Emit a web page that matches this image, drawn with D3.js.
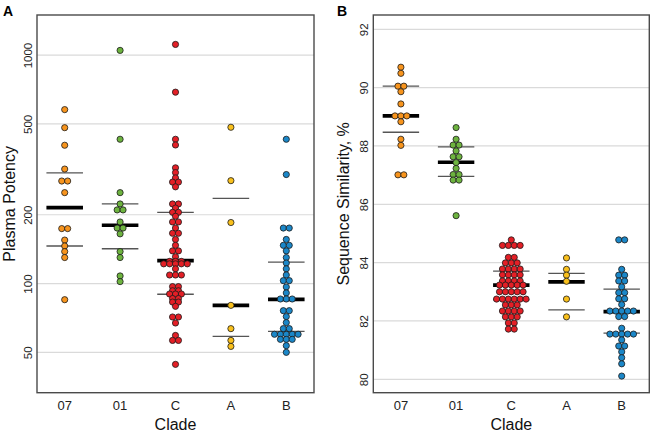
<!DOCTYPE html>
<html>
<head>
<meta charset="utf-8">
<script src="https://cdnjs.cloudflare.com/ajax/libs/d3/7.8.5/d3.min.js"></script>
<style>
body { margin: 0; background: #fff; }
svg { display: block; font-family: "Liberation Sans", Arial, sans-serif; }
</style>
</head>
<body>
<svg width="650" height="434"></svg>
<script>
// clades and their colours (same order on both panels)
var clades = ["07", "01", "C", "A", "B"];
var cladeColors = ["#F7941D", "#6DB33F", "#E31F26", "#F9C01C", "#1B87C8"];

// panel A - plasma potency, one value per dot
var potency07 = [577, 481, 403, 317, 281, 281, 250, 174, 174, 155, 146, 138, 130, 85];
var potency01 = [1048, 428, 250, 223, 210, 210, 186, 175, 175, 165, 138, 130, 108, 102];
var potencyC = [1113, 688, 428, 404, 321, 306, 290, 278, 278, 265, 223, 223, 214, 205, 205,
	197, 186, 186, 175, 166, 166, 156, 147, 139, 139, 131, 125, 125, 125,
	122, 122, 122, 122, 122, 116, 109, 109, 109,
	97, 97, 93, 93, 90, 90, 90, 86, 86, 83, 83, 79.5,
	71.4, 71.4, 67.2, 59.3, 56.4, 56.4, 44.3];
var potencyA = [483, 282, 185, 80.3, 63.5, 56.4, 53.1];
var potencyB = [428, 300, 175, 175, 156, 147, 147, 139, 130, 123, 116, 109, 103, 103, 96.6, 91,
	85.6, 85.6, 85.6, 76.1, 76.1, 71.7, 67.5, 63.5, 63.5,
	60, 60, 60, 60, 60, 57, 57, 57, 53.5, 50];
var potencyTicks = [50, 100, 200, 500, 1000];
// summary lines
var potencyQ3 = [305, 223, 205, 236, 124];
var potencyMedian = [215, 180, 126, 80.3, 85.3];
var potencyQ1 = [146, 142, 89.8, 58.7, 61.8];

// panel B - sequence similarity, %
var similarity07 = [90.70, 90.49, 90.05, 90.05, 89.86, 89.44, 89.03, 89.03, 89.03, 88.83, 88.23, 88.02, 87.01, 87.01];
var similarity01 = [88.63, 88.23, 88.03, 88.03, 87.83, 87.63, 87.63, 87.43, 87.23, 87.02, 87.02, 86.83, 86.83, 85.61];
var similarityC = [84.78, 84.59, 84.59, 84.59, 84.59, 84.18, 84.18, 83.99, 83.99, 83.99,
	83.78, 83.78, 83.78, 83.78, 83.58, 83.58, 83.58, 83.58, 83.37, 83.37, 83.37, 83.37,
	83.23, 83.23, 83.23, 83.23, 83.23, 83.0, 83.0, 83.0, 83.0, 83.0,
	82.75, 82.75, 82.75, 82.75, 82.75, 82.75, 82.55, 82.55, 82.55,
	82.34, 82.34, 82.34, 82.34, 82.14, 82.14, 82.14, 81.93, 81.93, 81.72, 81.72];
var similarityA = [84.16, 83.77, 83.57, 83.36, 82.75, 82.14];
var similarityB = [84.78, 84.78, 83.77, 83.57, 83.57, 83.37, 83.37, 83.17, 82.97, 82.97, 82.76, 82.76, 82.56,
	82.34, 82.34, 82.34, 82.34, 82.34, 82.15, 82.15, 81.75,
	81.55, 81.55, 81.55, 81.55, 81.55, 81.35, 81.14, 81.14, 80.94, 80.74, 80.53, 80.11];
var similarityTicks = [80, 82, 84, 86, 88, 90, 92];
var similarityQ3 = [90.05, 87.97, 83.71, 83.63, 83.09];
var similarityMedian = [89.03, 87.44, 83.23, 83.34, 82.32];
var similarityQ1 = [88.47, 86.96, 82.72, 82.38, 81.58];

var svg = d3.select("svg"),
	plotTop = 15,
	plotBottom = 392.7,
	dotR = 3.1,
	dotStep = 5.9;

drawPanel({
	letter: "A", letterX: 3,
	left: 37, right: 314,
	y: d3.scaleLog().domain([33.3, 1497]).range([plotBottom, plotTop]),
	ticks: potencyTicks,
	title: "Plasma Potency", titleX: 15,
	values: [potency07, potency01, potencyC, potencyA, potencyB],
	q1: potencyQ1, median: potencyMedian, q3: potencyQ3
});

drawPanel({
	letter: "B", letterX: 337,
	left: 373.3, right: 649.3,
	y: d3.scaleLinear().domain([79.54, 92.49]).range([plotBottom, plotTop]),
	ticks: similarityTicks,
	title: "Sequence Similarity, %", titleX: 348.5,
	values: [similarity07, similarity01, similarityC, similarityA, similarityB],
	q1: similarityQ1, median: similarityMedian, q3: similarityQ3
});

function drawPanel(p) {
	var g = svg.append("g");
	var x = d3.scaleBand().domain(clades).range([p.left, p.right]);
	var y = p.y;
	var half = x.bandwidth() * 0.33;

	// horizontal gridlines
	g.selectAll("line.grid")
		.data(p.ticks)
		.enter().append("line")
			.attr("class", "grid")
			.attr("x1", p.left).attr("x2", p.right)
			.attr("y1", function (d) { return y(d); })
			.attr("y2", function (d) { return y(d); })
			.attr("stroke", "#dadada")
			.attr("stroke-width", 1.2);

	// y axis, labels turned on their side
	var yAxis = g.append("g")
		.attr("transform", "translate(" + p.left + ",0)")
		.call(d3.axisLeft(y).tickValues(p.ticks).tickSize(0).tickFormat(d3.format("d")));
	yAxis.select(".domain").remove();
	yAxis.selectAll("text")
		.attr("x", 0).attr("dy", 0)
		.attr("transform", "translate(-5.5,0) rotate(-90)")
		.attr("text-anchor", "middle")
		.attr("fill", "#222")
		.style("font-size", "11.5px");

	// x axis
	var xAxis = g.append("g")
		.attr("transform", "translate(0," + plotBottom + ")")
		.call(d3.axisBottom(x).tickSize(0).tickPadding(8));
	xAxis.select(".domain").remove();
	xAxis.selectAll("text")
		.attr("fill", "#222")
		.style("font-size", "13px");

	// quartile and median lines, under the dots
	clades.forEach(function (c, i) {
		var cx = x(c) + x.bandwidth() / 2;
		[[p.q3[i], 1.3, "#555"], [p.q1[i], 1.3, "#555"], [p.median[i], 3.6, "#000"]].forEach(function (l) {
			g.append("line")
				.attr("x1", cx - half).attr("x2", cx + half)
				.attr("y1", y(l[0])).attr("y2", y(l[0]))
				.attr("stroke", l[2])
				.attr("stroke-width", l[1]);
		});
	});

	// dots - equal values sit side by side in one row
	clades.forEach(function (c, i) {
		var cx = x(c) + x.bandwidth() / 2;
		var pts = [];
		d3.groups(p.values[i], function (d) { return d; }).forEach(function (row) {
			var n = row[1].length;
			row[1].forEach(function (v, k) {
				pts.push({ x: cx + (k - (n - 1) / 2) * dotStep, y: y(v) });
			});
		});
		g.selectAll("circle.c" + i)
			.data(pts)
			.enter().append("circle")
				.attr("class", "c" + i)
				.attr("cx", function (d) { return d.x; })
				.attr("cy", function (d) { return d.y; })
				.attr("r", dotR)
				.attr("fill", cladeColors[i])
				.attr("stroke", "#1a1a1a")
				.attr("stroke-width", 0.8);
	});

	// panel frame
	g.append("rect")
		.attr("x", p.left).attr("y", plotTop)
		.attr("width", p.right - p.left).attr("height", plotBottom - plotTop)
		.attr("fill", "none")
		.attr("stroke", "#4a4a4a")
		.attr("stroke-width", 1.4);

	// titles
	g.append("text")
		.attr("transform", "translate(" + p.titleX + "," + (plotTop + plotBottom) / 2 + ") rotate(-90)")
		.attr("text-anchor", "middle")
		.attr("fill", "#111")
		.style("font-size", "16px")
		.text(p.title);

	g.append("text")
		.attr("x", (p.left + p.right) / 2).attr("y", 429.5)
		.attr("text-anchor", "middle")
		.attr("fill", "#111")
		.style("font-size", "16px")
		.text("Clade");

	g.append("text")
		.attr("x", p.letterX).attr("y", 16)
		.attr("fill", "#000")
		.style("font-size", "14px")
		.style("font-weight", "bold")
		.text(p.letter);
}
</script>
</body>
</html>
